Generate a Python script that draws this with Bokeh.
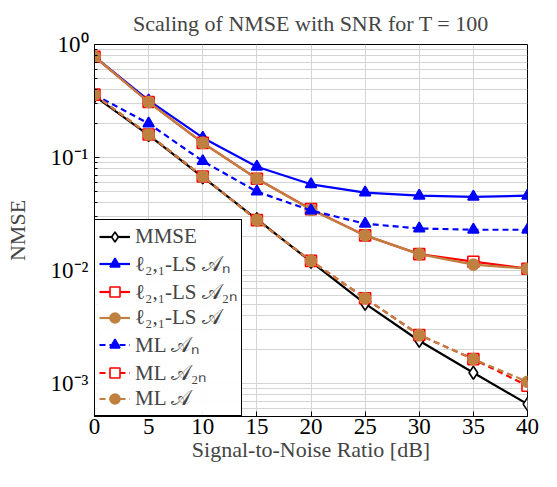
from bokeh.plotting import figure
from bokeh.models import FixedTicker, CustomJSTickFormatter, Legend, LegendItem
from bokeh.embed import file_html
from bokeh.resources import INLINE

snr = [0, 5, 10, 15, 20, 25, 30, 35, 40]
mmse = [0.35, 0.158, 0.067, 0.0285, 0.012, 0.0051, 0.0024, 0.00125, 0.00066]
ls_an = [0.78, 0.32, 0.15, 0.083, 0.058, 0.049, 0.046, 0.045, 0.046]
ls_a2n = [0.78, 0.31, 0.135, 0.065, 0.035, 0.0205, 0.014, 0.012, 0.0104]
ls_a = [0.78, 0.31, 0.135, 0.065, 0.0345, 0.0205, 0.014, 0.0113, 0.0104]
ml_an = [0.36, 0.20, 0.093, 0.050, 0.034, 0.026, 0.0236, 0.023, 0.023]
ml_a2n = [0.36, 0.16, 0.068, 0.028, 0.0122, 0.0057, 0.0027, 0.00165, 0.00096]
ml_a = [0.36, 0.16, 0.068, 0.028, 0.0122, 0.0057, 0.0027, 0.00165, 0.00104]

labels = ["MMSE", "ℓ₂,₁-LS 𝒜ₙ", "ℓ₂,₁-LS 𝒜₂ₙ", "ℓ₂,₁-LS 𝒜",
          "ML 𝒜ₙ", "ML 𝒜₂ₙ", "ML 𝒜"]
title_text = "Scaling of NMSE with SNR for T = 100"
xlabel = "Signal-to-Noise Ratio [dB]"
ylabel = "NMSE"
xticks = [0, 5, 10, 15, 20, 25, 30, 35, 40]
yticks = [1e-3, 1e-2, 1e-1, 1.0]

FONT = "Liberation Serif"
BLUE = "#0000ff"
RED = "#ff0000"
BROWN = "#bf8040"

p = figure(width=541, height=471, y_axis_type="log",
           x_range=(0, 40), y_range=(10 ** -3.29, 1.0),
           output_backend="svg", toolbar_location=None,
           min_border_left=94, min_border_right=14,
           min_border_top=43, min_border_bottom=55)
p.border_fill_color = "white"

p.title.text = title_text
p.title.align = "center"
p.title.text_font = FONT
p.title.text_font_size = "22px"
p.title.text_font_style = "normal"
p.title.standoff = 17

p.outline_line_color = "black"
p.outline_line_width = 1
p.outline_line_alpha = 1

minor = []
for e in [-4, -3, -2, -1]:
    for m in range(2, 10):
        minor.append(m * 10 ** e)
p.yaxis.ticker = FixedTicker(ticks=yticks, minor_ticks=minor)
p.xaxis.ticker = FixedTicker(ticks=xticks)
p.yaxis.formatter = CustomJSTickFormatter(code="""
const e = Math.round(Math.log10(tick));
const sup = {'0':'⁰','1':'¹','2':'²','3':'³','4':'⁴','-':'⁻'};
return '10' + String(e).split('').map(c => sup[c]).join('');
""")

for ax in [p.xaxis[0], p.yaxis[0]]:
    ax.major_label_text_font = FONT
    ax.major_label_text_font_size = "23px"
    ax.axis_label_text_font = FONT
    ax.axis_label_text_font_size = "22px"
    ax.axis_label_text_font_style = "normal"
    ax.major_tick_in = 5
    ax.major_tick_out = 0
    ax.minor_tick_in = 3
    ax.minor_tick_out = 0
    ax.axis_line_color = "black"
    ax.major_label_text_color = "black"
p.xaxis.axis_label = xlabel
p.yaxis.axis_label = ylabel
p.xaxis.major_label_standoff = 2
p.xaxis.axis_label_standoff = 0
p.yaxis.major_label_standoff = 6
p.yaxis.axis_label_standoff = 18

p.xgrid.grid_line_color = "#d4d4d4"
p.ygrid.grid_line_color = "#d4d4d4"
p.ygrid.minor_grid_line_color = "#d4d4d4"

items = []
lw = 2.2

def add(ys, color, marker, fill, dash, label):
    r1 = p.line(snr, ys, line_color=color, line_width=lw, line_dash=dash)
    r2 = p.scatter(snr, ys, marker=marker, size=11 if marker != "diamond" else 13,
                   line_color=color, fill_color=fill, line_width=1.6)
    items.append(LegendItem(label=label, renderers=[r1, r2]))

add(mmse, "black", "diamond", "white", "solid", labels[0])
add(ls_an, BLUE, "triangle", BLUE, "solid", labels[1])
add(ls_a2n, RED, "square", "white", "solid", labels[2])
add(ls_a, BROWN, "circle", BROWN, "solid", labels[3])
add(ml_an, BLUE, "triangle", BLUE, "6 4", labels[4])
add(ml_a2n, RED, "square", "white", "6 4", labels[5])
add(ml_a, BROWN, "circle", BROWN, "6 4", labels[6])

legend = Legend(items=items, location="bottom_left")
legend.label_text_font = FONT
legend.label_text_font_size = "21px"
legend.border_line_color = "black"
legend.border_line_width = 1
legend.border_line_alpha = 1
legend.margin = 0
legend.padding = 4
legend.spacing = 0
legend.glyph_width = 31
legend.label_height = 25
legend.glyph_height = 25
legend.label_standoff = 5
p.add_layout(legend)

open("out.html", "w").write(file_html(p, INLINE))
